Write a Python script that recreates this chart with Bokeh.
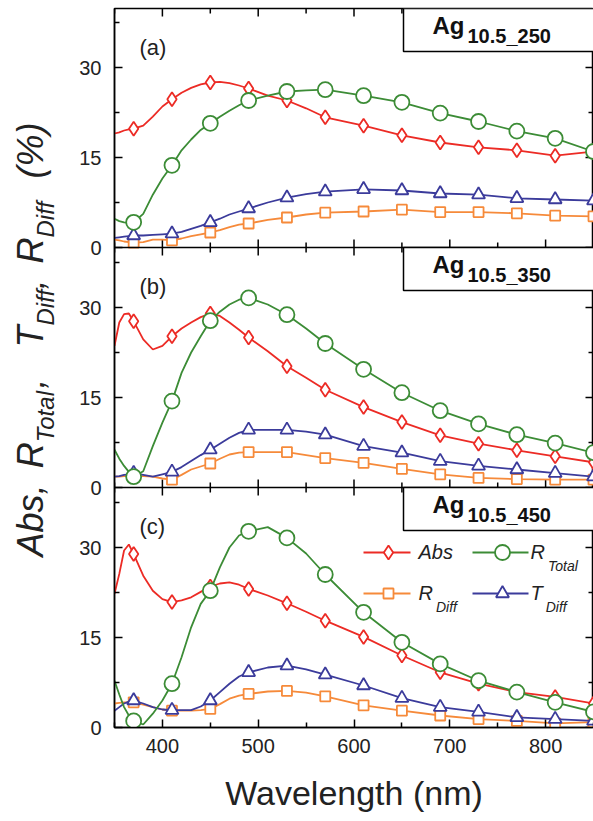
import math
from bokeh.plotting import figure
from bokeh.layouts import row
from bokeh.models import (Range1d, FixedTicker, LinearAxis, Label, Span,
                          BoxAnnotation, ColumnDataSource)
from bokeh.embed import file_html
from bokeh.resources import INLINE

# ---------------- data ----------------
wavelength = [350, 355, 360, 365, 370, 380, 390, 400, 410, 420, 430, 440, 450, 460,
              470, 480, 490, 510, 530, 550, 570, 610, 650, 690, 730, 770, 810, 850]
marker_wavelength = [370, 410, 450, 490, 530, 570, 610, 650, 690, 730, 770, 810, 850]

# panel (a) Ag10.5_250
abs_a = [19.0, 19.2, 19.5, 19.7, 19.8, 20.3, 21.8, 23.5, 24.7, 25.8, 26.6, 27.2, 27.5, 27.6,
         27.4, 27.0, 26.5, 25.3, 24.5, 23.2, 21.7, 20.3, 18.7, 17.5, 16.7, 16.2, 15.3, 16.0]
rtotal_a = [4.8, 4.4, 4.2, 4.1, 4.2, 5.6, 8.8, 11.5, 13.7, 16.2, 18.0, 19.6, 20.7, 21.8,
            22.8, 23.7, 24.5, 25.3, 26.0, 26.2, 26.3, 25.3, 24.2, 22.4, 21.0, 19.4, 18.2, 16.0]
tdiff_a = [1.6, 1.7, 1.8, 1.9, 2.0, 2.0, 2.1, 2.2, 2.3, 2.6, 3.1, 3.6, 4.2, 4.8,
           5.5, 6.0, 6.5, 7.5, 8.3, 8.9, 9.3, 9.7, 9.5, 9.0, 8.8, 8.2, 8.0, 7.8]
rdiff_a = [1.3, 1.2, 1.0, 0.9, 0.8, 0.9, 1.3, 1.3, 1.2, 1.5, 1.9, 2.2, 2.5, 2.9,
           3.4, 3.8, 4.0, 4.6, 5.0, 5.5, 5.8, 6.0, 6.3, 5.9, 5.9, 5.7, 5.3, 5.2]

# panel (b) Ag10.5_350
abs_b = [23.6, 27.5, 28.9, 29.0, 27.7, 24.7, 23.0, 23.6, 25.2, 26.5, 27.5, 28.4, 29.0, 28.6,
         27.5, 26.3, 25.0, 22.7, 20.2, 18.3, 16.3, 13.4, 10.9, 8.7, 7.3, 6.2, 5.2, 4.2]
rtotal_b = [6.3, 4.8, 3.6, 2.6, 1.8, 2.7, 6.9, 10.8, 14.4, 19.1, 22.5, 25.2, 27.8, 29.3,
            30.5, 31.3, 31.6, 30.5, 28.8, 26.5, 24.0, 19.7, 15.8, 12.8, 10.6, 8.8, 7.4, 5.8]
tdiff_b = [1.8, 1.9, 2.1, 2.2, 2.4, 2.1, 1.8, 2.2, 2.6, 3.4, 4.4, 5.4, 6.3, 7.3,
           8.3, 9.1, 9.6, 9.6, 9.6, 9.3, 8.8, 6.9, 5.8, 4.4, 3.6, 3.0, 2.4, 1.8]
rdiff_b = [1.8, 1.8, 1.9, 1.9, 1.9, 1.9, 1.8, 1.5, 1.3, 2.1, 3.0, 3.5, 4.0, 4.8,
           5.5, 5.8, 5.9, 5.9, 5.9, 5.4, 4.9, 4.1, 3.1, 2.2, 1.6, 1.4, 1.3, 1.3]

# panel (c) Ag10.5_450
abs_c = [22.3, 25.6, 29.5, 30.5, 28.9, 25.3, 22.8, 21.4, 20.9, 21.2, 21.7, 22.6, 23.5, 24.0,
         24.2, 23.8, 23.1, 22.0, 20.7, 19.3, 17.8, 15.1, 12.0, 9.2, 7.3, 5.9, 5.1, 4.0]
rtotal_c = [7.8, 5.5, 3.4, 2.0, 1.1, 0.5, 2.3, 4.5, 7.3, 11.7, 16.7, 20.6, 22.8, 26.7,
            30.0, 32.0, 32.7, 33.4, 31.6, 29.0, 25.5, 19.2, 14.2, 10.6, 7.8, 5.9, 4.2, 2.6]
tdiff_c = [2.8, 3.4, 4.0, 4.3, 4.5, 4.0, 3.4, 3.0, 2.9, 2.9, 2.9, 3.5, 4.5, 5.9,
           7.3, 8.5, 9.2, 10.0, 10.3, 9.7, 8.8, 7.0, 4.9, 3.4, 2.6, 1.7, 1.4, 1.1]
rdiff_c = [4.0, 4.1, 4.2, 4.2, 4.2, 3.8, 3.4, 3.0, 2.8, 2.8, 2.8, 2.9, 3.1, 3.9,
           4.8, 5.3, 5.6, 6.0, 6.1, 5.8, 5.2, 3.7, 2.8, 2.0, 1.4, 1.1, 0.7, 0.9]

x_major = [400, 500, 600, 700, 800]
x_minor = [350, 450, 550, 650, 750, 850]
y_major = [0, 15, 30]
y_minor = [7.5, 22.5, 37.5]
x_title = "Wavelength (nm)"
panel_tags = ["(a)", "(b)", "(c)"]
sample_main = "Ag"
sample_subs = ["10.5_250", "10.5_350", "10.5_450"]
legend_names = [("Abs", ""), ("R", "Total"), ("R", "Diff"), ("T", "Diff")]
# y title: groups of (text, is_subscript)
y_title_groups = [
    [("Abs,", False)],
    [("R", False), ("Total", True), (",", False)],
    [("T", False), ("Diff", True), (",", False)],
    [("R", False), ("Diff", True)],
    [("(%)", False)],
]

# ---------------- style / geometry ----------------
RED = "#ec2b25"
GREEN = "#3c8c36"
ORANGE = "#f68a3a"
BLUE = "#3b3b9b"
FONT = "Liberation Sans"
TXT = "#222222"

PAGE_H = 818
FRAME_L, FRAME_R = 114, 593
FRAME_T, FRAME_B = 8, 727
PX_PER_UNIT = 6.0
LEFT_W = 70
MAIN_W = FRAME_R - LEFT_W
X0, X1 = 350, 850
NM_PER_PX = (X1 - X0) / float(FRAME_R - FRAME_L)
TOTAL_UNITS = (FRAME_B - FRAME_T) / PX_PER_UNIT          # 119.83
panel_offsets = [80, 40, 0]                              # main-range value of each panel's 0
panel_range_names = ["a", "b", "default"]
panel_tops_px = [FRAME_T, FRAME_B - 80 * PX_PER_UNIT, FRAME_B - 40 * PX_PER_UNIT]


def nm_at(px):
    return X0 + (px - FRAME_L) * NM_PER_PX


def val_at(k, page_y):
    # value in panel k's own coordinates at a page y pixel
    return (FRAME_B - page_y) / PX_PER_UNIT - panel_offsets[k]


p = figure(width=MAIN_W, height=PAGE_H,
           x_range=Range1d(X0, X1), y_range=Range1d(0, TOTAL_UNITS),
           output_backend="svg", toolbar_location=None,
           x_axis_location=None, y_axis_location=None,
           min_border_left=FRAME_L - LEFT_W, min_border_right=0,
           min_border_top=FRAME_T, min_border_bottom=PAGE_H - FRAME_B)
p.extra_y_ranges = {"a": Range1d(-80, TOTAL_UNITS - 80), "b": Range1d(-40, TOTAL_UNITS - 40)}
p.grid.visible = False
p.outline_line_color = "black"
p.outline_line_width = 1.5
p.background_fill_color = "white"
p.border_fill_color = "white"

# ---- axes with labels (left and bottom) ----
y_ticks_all, y_minor_all, overrides = [], [], {}
for off in panel_offsets:
    for t in y_major:
        y_ticks_all.append(t + off)
        overrides[t + off] = str(t)
    for m in y_minor:
        y_minor_all.append(m + off)


def style_axis(ax):
    ax.major_tick_in = 8
    ax.major_tick_out = 0
    ax.minor_tick_in = 5
    ax.minor_tick_out = 0
    ax.axis_line_color = "black"
    ax.axis_line_width = 1.5
    ax.major_tick_line_color = "black"
    ax.major_tick_line_width = 1.5
    ax.minor_tick_line_color = "black"
    ax.minor_tick_line_width = 1.5
    ax.major_label_text_font = FONT
    ax.major_label_text_font_size = "20px"
    ax.major_label_text_color = TXT


left = LinearAxis(ticker=FixedTicker(ticks=y_ticks_all, minor_ticks=y_minor_all))
style_axis(left)
left.major_label_overrides = overrides
left.major_label_standoff = 13
p.add_layout(left, "left")

bottom = LinearAxis(ticker=FixedTicker(ticks=x_major, minor_ticks=x_minor))
style_axis(bottom)
bottom.major_label_standoff = 11
bottom.axis_label = x_title
bottom.axis_label_text_font = FONT
bottom.axis_label_text_font_size = "34px"
bottom.axis_label_text_font_style = "normal"
bottom.axis_label_text_color = TXT
bottom.axis_label_standoff = 18
p.add_layout(bottom, "below")

# ---- panel separators and the inward ticks on top / right / separators ----
for off in panel_offsets[:2]:
    p.add_layout(Span(location=off, dimension="width", line_color="black", line_width=1.5))

MAJ, MIN = 8, 5
sx0, sy0, sx1, sy1 = [], [], [], []
edges = [(TOTAL_UNITS, [-1])] + [(off, [-1, 1]) for off in panel_offsets[:2]]
for ypos, dirs in edges:
    for xs, ln in ((x_major, MAJ), (x_minor, MIN)):
        for xv in xs:
            for d in dirs:
                sx0.append(xv); sx1.append(xv)
                sy0.append(ypos); sy1.append(ypos + d * ln / PX_PER_UNIT)
for ys, ln in ((y_ticks_all, MAJ), (y_minor_all, MIN)):
    for yv in ys:
        sx0.append(X1); sx1.append(X1 - ln * NM_PER_PX)
        sy0.append(yv); sy1.append(yv)
p.segment(sx0, sy0, sx1, sy1, line_color="black", line_width=1.5)

series = [
    (abs_a, rtotal_a, tdiff_a, rdiff_a),
    (abs_b, rtotal_b, tdiff_b, rdiff_b),
    (abs_c, rtotal_c, tdiff_c, rdiff_c),
]
spec = [("rd", ORANGE, "square", 10), ("td", BLUE, "triangle", 13),
        ("abs", RED, "diamond", 14), ("rt", GREEN, "circle", 15)]

for k in range(3):
    rn = panel_range_names[k]
    a_, rt_, td_, rd_ = series[k]
    src = ColumnDataSource(dict(wl=wavelength, abs=a_, rt=rt_, td=td_, rd=rd_))
    idx = [wavelength.index(w) for w in marker_wavelength]
    msrc = ColumnDataSource(dict(wl=[wavelength[i] for i in idx],
                                 abs=[a_[i] for i in idx], rt=[rt_[i] for i in idx],
                                 td=[td_[i] for i in idx], rd=[rd_[i] for i in idx]))
    for key, col, mk, sz in spec:
        p.line("wl", key, source=src, line_color=col, line_width=1.8, y_range_name=rn)
        p.scatter("wl", key, source=msrc, marker=mk, size=sz, fill_color="white",
                  line_color=col, line_width=1.8, y_range_name=rn)

    top_px = panel_tops_px[k]
    p.add_layout(BoxAnnotation(left=nm_at(403), right=X1 + 20, bottom=val_at(k, top_px + 43),
                               top=val_at(k, top_px), fill_color="white", fill_alpha=1.0,
                               line_color="black", line_alpha=1.0, line_width=1.5,
                               y_range_name=rn))
    p.add_layout(Label(x=nm_at(432), y=val_at(k, top_px + 17), text=sample_main,
                       text_font=FONT, text_font_size="24px", text_font_style="bold",
                       text_color="#111111", text_baseline="middle", y_range_name=rn))
    p.add_layout(Label(x=nm_at(467), y=val_at(k, top_px + 27), text=sample_subs[k],
                       text_font=FONT, text_font_size="20px", text_font_style="bold",
                       text_color="#111111", text_baseline="middle", y_range_name=rn))
    p.add_layout(Label(x=nm_at(139), y=val_at(k, top_px + 39), text=panel_tags[k],
                       text_font=FONT, text_font_size="22px", text_color=TXT,
                       text_baseline="middle", y_range_name=rn))

# ---- legend (drawn inside panel c) ----
rows_y = [552, 593]
cols = [(363, 410, 388, 418), (472, 528, 502, 530)]
entries = [(0, 0, RED, "diamond", 14), (0, 1, GREEN, "circle", 15),
           (1, 0, ORANGE, "square", 10), (1, 1, BLUE, "triangle", 13)]
for n, (r, c, col, mk, sz) in enumerate(entries):
    x0, x1, xm, xt_ = cols[c]
    yv = val_at(2, rows_y[r])
    p.line([nm_at(x0), nm_at(x1)], [yv, yv], line_color=col, line_width=1.8)
    p.scatter([nm_at(xm)], [yv], marker=mk, size=sz, fill_color="white",
              line_color=col, line_width=1.8)
    main, sub = legend_names[n]
    p.add_layout(Label(x=nm_at(xt_), y=val_at(2, rows_y[r] - 1), text=main,
                       text_font=FONT, text_font_size="20px",
                       text_font_style="italic", text_color=TXT,
                       text_baseline="middle"))
    if sub:
        w = {"R": 722, "T": 611}[main] * 20 / 1000.0
        p.add_layout(Label(x=nm_at(xt_ + w + 3), y=val_at(2, rows_y[r] + 13),
                           text=sub, text_font=FONT, text_font_size="14px",
                           text_font_style="italic", text_color=TXT,
                           text_baseline="middle"))

# ---------------- rotated y-axis title with subscripts ----------------
# (the row layout aligns this frame with the main frame, so use page pixels directly)
lab = figure(width=LEFT_W, height=PAGE_H, x_range=Range1d(0, LEFT_W),
             y_range=Range1d(FRAME_B, FRAME_T), output_backend="svg", toolbar_location=None,
             x_axis_location=None, y_axis_location=None, min_border=0,
             min_border_top=FRAME_T, min_border_bottom=PAGE_H - FRAME_B)
lab.grid.visible = False
lab.outline_line_color = None
lab.background_fill_color = "white"
lab.border_fill_color = "white"

W = {"A": 667, "b": 556, "s": 500, ",": 278, " ": 278, "R": 722, "T": 611, "o": 556,
     "t": 278, "a": 556, "l": 222, "D": 722, "i": 222, "f": 278, "(": 333, "%": 889, ")": 333}
MAIN_FS, SUB_FS = 36, 24
MAIN_MID_X, SUB_MID_X = 30, 45
group_centers = [520, 423, 313, 232, 150]   # page y of each group's centre


def twidth(s, fs):
    return sum(W[ch] for ch in s) * fs / 1000.0


for grp, cy in zip(y_title_groups, group_centers):
    glen = sum(twidth(t, SUB_FS if sub else MAIN_FS) for t, sub in grp)
    py = cy + glen / 2.0
    for t, sub in grp:
        fs = SUB_FS if sub else MAIN_FS
        lab.add_layout(Label(x=SUB_MID_X if sub else MAIN_MID_X, y=py,
                             text=t, angle=math.pi / 2, text_font=FONT,
                             text_font_size=f"{fs}px", text_font_style="italic",
                             text_color=TXT, text_align="left", text_baseline="middle"))
        py -= twidth(t, fs)

layout = row(lab, p)
open("out.html", "w").write(file_html(layout, INLINE))
